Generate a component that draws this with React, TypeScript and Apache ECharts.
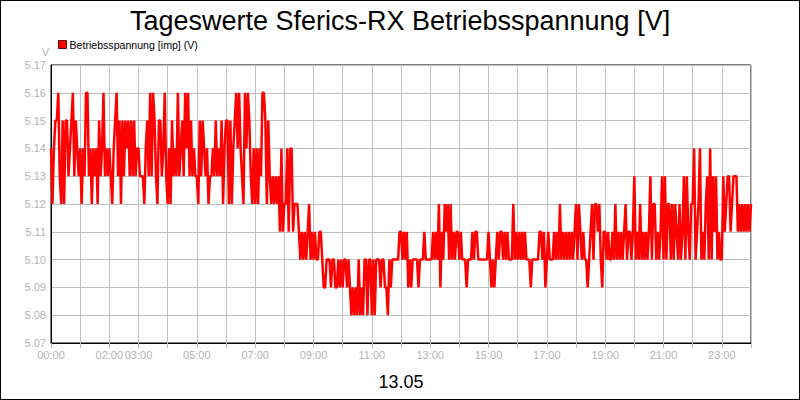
import React, { useEffect, useRef } from 'react';
import * as echarts from 'echarts';

// Betriebsspannung in V, 20 Werte je Stunde (alle 3 Minuten), Stunde 0..23, dann Endwert 24:00
const h00 = [5.14, 5.12, 5.14, 5.15, 5.15, 5.16, 5.13, 5.12, 5.15, 5.12, 5.15, 5.15, 5.13, 5.14, 5.15, 5.16, 5.13, 5.15, 5.14, 5.13];
const h01 = [5.14, 5.12, 5.14, 5.13, 5.16, 5.16, 5.13, 5.14, 5.12, 5.14, 5.13, 5.14, 5.12, 5.15, 5.13, 5.14, 5.16, 5.13, 5.14, 5.13];
const h02 = [5.14, 5.13, 5.12, 5.14, 5.15, 5.16, 5.13, 5.15, 5.12, 5.15, 5.13, 5.15, 5.14, 5.15, 5.13, 5.15, 5.13, 5.15, 5.13, 5.14];
const h03 = [5.14, 5.13, 5.13, 5.13, 5.12, 5.14, 5.15, 5.13, 5.16, 5.13, 5.16, 5.15, 5.13, 5.12, 5.15, 5.15, 5.13, 5.14, 5.16, 5.13];
const h04 = [5.12, 5.14, 5.12, 5.15, 5.13, 5.14, 5.13, 5.16, 5.13, 5.14, 5.15, 5.13, 5.16, 5.14, 5.16, 5.13, 5.15, 5.13, 5.14, 5.13];
const h05 = [5.13, 5.12, 5.15, 5.13, 5.15, 5.14, 5.13, 5.14, 5.12, 5.13, 5.13, 5.14, 5.13, 5.15, 5.13, 5.14, 5.13, 5.15, 5.12, 5.14];
const h06 = [5.15, 5.15, 5.12, 5.15, 5.12, 5.14, 5.15, 5.16, 5.14, 5.16, 5.14, 5.13, 5.12, 5.16, 5.14, 5.16, 5.15, 5.13, 5.12, 5.14];
const h07 = [5.12, 5.14, 5.12, 5.14, 5.13, 5.16, 5.16, 5.15, 5.12, 5.15, 5.13, 5.12, 5.13, 5.12, 5.13, 5.12, 5.13, 5.11, 5.14, 5.11];
const h08 = [5.12, 5.12, 5.14, 5.11, 5.14, 5.14, 5.11, 5.12, 5.12, 5.12, 5.11, 5.10, 5.11, 5.10, 5.11, 5.10, 5.11, 5.12, 5.10, 5.11];
const h09 = [5.10, 5.11, 5.10, 5.10, 5.11, 5.11, 5.10, 5.09, 5.09, 5.10, 5.10, 5.10, 5.09, 5.10, 5.10, 5.09, 5.09, 5.10, 5.09, 5.10];
const h10 = [5.09, 5.10, 5.10, 5.09, 5.10, 5.09, 5.08, 5.09, 5.08, 5.09, 5.08, 5.10, 5.08, 5.09, 5.08, 5.10, 5.10, 5.08, 5.10, 5.10];
const h11 = [5.08, 5.10, 5.08, 5.10, 5.10, 5.10, 5.09, 5.10, 5.10, 5.09, 5.09, 5.08, 5.10, 5.09, 5.10, 5.10, 5.10, 5.10, 5.10, 5.11];
const h12 = [5.11, 5.10, 5.11, 5.10, 5.11, 5.09, 5.10, 5.09, 5.10, 5.10, 5.10, 5.10, 5.09, 5.10, 5.10, 5.10, 5.11, 5.10, 5.10, 5.10];
const h13 = [5.10, 5.10, 5.11, 5.10, 5.11, 5.10, 5.12, 5.09, 5.11, 5.10, 5.12, 5.11, 5.12, 5.10, 5.12, 5.10, 5.11, 5.10, 5.11, 5.11];
const h14 = [5.10, 5.11, 5.10, 5.10, 5.10, 5.09, 5.10, 5.10, 5.10, 5.11, 5.10, 5.11, 5.11, 5.10, 5.10, 5.10, 5.10, 5.10, 5.10, 5.10];
const h15 = [5.11, 5.10, 5.09, 5.10, 5.09, 5.10, 5.11, 5.10, 5.11, 5.11, 5.10, 5.11, 5.10, 5.11, 5.10, 5.10, 5.10, 5.12, 5.10, 5.11];
const h16 = [5.10, 5.11, 5.10, 5.11, 5.10, 5.11, 5.10, 5.10, 5.10, 5.09, 5.10, 5.10, 5.10, 5.10, 5.10, 5.11, 5.11, 5.10, 5.11, 5.09];
const h17 = [5.10, 5.11, 5.10, 5.10, 5.10, 5.11, 5.10, 5.11, 5.10, 5.12, 5.10, 5.11, 5.10, 5.11, 5.10, 5.11, 5.10, 5.11, 5.10, 5.11];
const h18 = [5.12, 5.10, 5.12, 5.11, 5.10, 5.11, 5.10, 5.10, 5.09, 5.10, 5.11, 5.12, 5.10, 5.12, 5.12, 5.11, 5.12, 5.10, 5.09, 5.11];
const h19 = [5.11, 5.10, 5.11, 5.10, 5.10, 5.11, 5.10, 5.12, 5.10, 5.11, 5.10, 5.11, 5.10, 5.11, 5.12, 5.10, 5.11, 5.11, 5.10, 5.11];
const h20 = [5.13, 5.10, 5.11, 5.10, 5.12, 5.10, 5.11, 5.10, 5.11, 5.10, 5.11, 5.13, 5.10, 5.12, 5.12, 5.10, 5.11, 5.10, 5.11, 5.13];
const h21 = [5.10, 5.13, 5.10, 5.12, 5.12, 5.10, 5.12, 5.10, 5.12, 5.11, 5.10, 5.12, 5.10, 5.11, 5.13, 5.10, 5.13, 5.11, 5.10, 5.12];
const h22 = [5.12, 5.14, 5.10, 5.11, 5.12, 5.14, 5.10, 5.11, 5.10, 5.12, 5.13, 5.10, 5.14, 5.10, 5.13, 5.11, 5.13, 5.10, 5.11, 5.10];
const h23 = [5.10, 5.13, 5.11, 5.12, 5.13, 5.13, 5.11, 5.12, 5.13, 5.13, 5.13, 5.11, 5.12, 5.11, 5.12, 5.11, 5.12, 5.11, 5.12, 5.11];
const lastValue = 5.12;

const hours = [h00, h01, h02, h03, h04, h05, h06, h07, h08, h09, h10, h11, h12, h13, h14, h15, h16, h17, h18, h19, h20, h21, h22, h23];

// Beschriftete Stunden an der x-Achse
const labeledHours = [0, 2, 3, 5, 7, 9, 11, 13, 15, 17, 19, 21, 23];

const seriesName = 'Betriebsspannung [imp] (V)';
const titleText = 'Tageswerte Sferics-RX Betriebsspannung [V]';
const dateText = '13.05';

const font = '"Liberation Sans", Arial, sans-serif';

const App: React.FC = () => {
  const ref = useRef<HTMLDivElement>(null);

  useEffect(() => {
    if (!ref.current) return;
    const chart = echarts.init(ref.current, undefined, { renderer: 'svg' });

    const data: [number, number][] = [];
    hours.forEach((vals, h) => {
      vals.forEach((v, i) => data.push([h + i / vals.length, v]));
    });
    data.push([24, lastValue]);

    chart.setOption({
      animation: false,
      backgroundColor: '#fff',
      textStyle: { fontFamily: font },
      title: {
        text: titleText,
        left: 'center',
        top: 1,
        textStyle: { fontSize: 27, fontWeight: 'normal', color: '#000', fontFamily: font }
      },
      legend: {
        left: 57,
        top: 38,
        padding: 0,
        icon: 'rect',
        itemWidth: 8,
        itemHeight: 8,
        itemGap: 4,
        textStyle: { fontSize: 10.6, color: '#000', fontFamily: font, padding: [0, 0, 0, -2] },
        itemStyle: { borderColor: '#600', borderWidth: 1 }
      },
      grid: {
        left: 50,
        top: 64,
        width: 700,
        height: 278,
        show: true,
        borderColor: '#000',
        borderWidth: 1,
        backgroundColor: 'transparent'
      },
      xAxis: {
        type: 'value',
        min: 0,
        max: 24,
        interval: 1,
        name: dateText,
        nameLocation: 'middle',
        nameGap: 30,
        nameTextStyle: { fontSize: 18, color: '#000', fontFamily: font },
        axisLine: { show: true, lineStyle: { color: '#000', width: 1 } },
        axisTick: { show: true, length: 5, lineStyle: { color: '#bbb' } },
        splitLine: { show: true, lineStyle: { color: '#c0c0c0', width: 1 } },
        axisLabel: {
          color: '#b4b4b4',
          fontSize: 11,
          margin: 6,
          fontFamily: font,
          formatter: (v: number) =>
            labeledHours.includes(v) ? String(v).padStart(2, '0') + ':00' : ''
        }
      },
      yAxis: {
        type: 'value',
        min: 5.07,
        max: 5.17,
        interval: 0.01,
        name: 'V',
        nameLocation: 'end',
        nameGap: 8,
        nameTextStyle: { color: '#b4b4b4', fontSize: 11, align: 'right', padding: [0, 2, 0, 0], fontFamily: font },
        axisLine: { show: true, lineStyle: { color: '#000', width: 1 } },
        axisTick: { show: false },
        splitLine: { show: true, lineStyle: { color: '#c0c0c0', width: 1 } },
        axisLabel: {
          color: '#b4b4b4',
          fontSize: 11,
          margin: 5,
          fontFamily: font,
          formatter: (v: number) => v.toFixed(2)
        }
      },
      series: [
        {
          name: seriesName,
          type: 'line',
          data,
          showSymbol: false,
          symbol: 'none',
          itemStyle: { color: '#ff0000' },
          lineStyle: { color: '#ff0000', width: 2.5 }
        }
      ]
    });

    return () => {
      chart.dispose();
    };
  }, []);

  return (
    <div
      style={{
        position: 'fixed',
        left: 0,
        top: 0,
        width: 800,
        height: 400,
        boxSizing: 'border-box',
        border: '1px solid #000',
        background: '#fff'
      }}
    >
      <div ref={ref} style={{ width: 798, height: 398 }} />
    </div>
  );
};

export default App;
